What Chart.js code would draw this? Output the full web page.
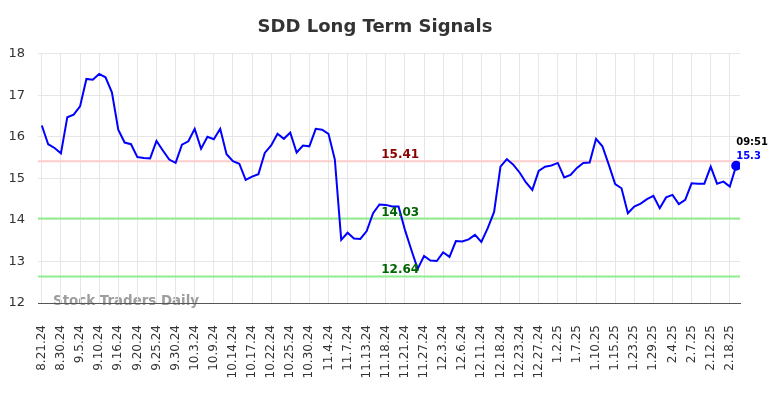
<!DOCTYPE html>
<html>
<head>
<meta charset="utf-8">
<title>SDD Long Term Signals</title>
<script src="https://cdn.jsdelivr.net/npm/chart.js@4/dist/chart.umd.min.js"></script>
<style>
    html, body { margin: 0; padding: 0; background: #fff; }
</style>
</head>
<body>
<canvas id="signals-chart" width="784" height="398"></canvas>
<script>
// подписи оси X (каждая третья точка)
const tickLabels = ['8.21.24', '8.30.24', '9.5.24', '9.10.24', '9.16.24', '9.20.24', '9.25.24', '9.30.24',
    '10.3.24', '10.9.24', '10.14.24', '10.17.24', '10.22.24', '10.25.24', '10.30.24',
    '11.4.24', '11.7.24', '11.13.24', '11.18.24', '11.21.24', '11.27.24',
    '12.3.24', '12.6.24', '12.11.24', '12.18.24', '12.23.24', '12.27.24',
    '1.2.25', '1.7.25', '1.10.25', '1.15.25', '1.23.25', '1.29.25',
    '2.4.25', '2.7.25', '2.12.25', '2.18.25'];
const tickStep = 3;

// цена SDD
const signalValues = [
    16.27, 15.82, 15.73, 15.60, 16.47, 16.53, 16.73, 17.39, 17.37, 17.51, 17.43, 17.07, 16.17, 15.86, 15.82, 15.51, 15.49, 15.48,
    15.90, 15.67, 15.45, 15.37, 15.81, 15.89, 16.19, 15.71, 16.00, 15.94, 16.19, 15.58, 15.41, 15.35, 14.96, 15.04, 15.10, 15.61, 15.79,
    16.07, 15.95, 16.10, 15.62, 15.79, 15.77, 16.19, 16.17, 16.07, 15.45, 13.52, 13.69, 13.55, 13.54, 13.73, 14.16, 14.37, 14.36, 14.32, 14.32,
    13.76, 13.28, 12.82, 13.13, 13.02, 13.01, 13.22, 13.11, 13.49, 13.48, 13.53, 13.64, 13.47, 13.80, 14.19,
    15.28, 15.46, 15.33, 15.14, 14.90, 14.72, 15.18, 15.28, 15.31, 15.37, 15.02, 15.08, 15.25, 15.37, 15.38, 15.95, 15.77, 15.33,
    14.86, 14.76, 14.16, 14.32, 14.39, 14.50, 14.58, 14.28, 14.54, 14.60, 14.38, 14.48, 14.88, 14.87, 14.87, 15.28, 14.87, 14.92, 14.80, 15.30
];

// уровни сопротивления / поддержки
const resistanceLevels = [15.41];
const supportLevels = [14.03, 12.64];
const lastTime = '09:51';

const levelsPlugin = {
    id: 'levels',
    beforeDraw(chart) {
        // водяной знак
        const ctx = chart.ctx;
        const area = chart.chartArea;
        ctx.save();
        ctx.font = 'bold 13.4px "DejaVu Sans"';
        ctx.fillStyle = 'rgba(140, 140, 140, 0.85)';
        ctx.textBaseline = 'middle';
        ctx.fillText('Stock Traders Daily', area.left + 15, area.bottom - 1);
        ctx.restore();
    },
    beforeDatasetsDraw(chart) {
        const ctx = chart.ctx;
        const area = chart.chartArea;
        const y = chart.scales.y;
        ctx.save();
        ctx.lineWidth = 2;
        resistanceLevels.forEach(v => {
            ctx.strokeStyle = '#ffcccc';
            ctx.beginPath();
            ctx.moveTo(area.left, y.getPixelForValue(v));
            ctx.lineTo(area.right, y.getPixelForValue(v));
            ctx.stroke();
        });
        supportLevels.forEach(v => {
            ctx.strokeStyle = '#90ee90';
            ctx.beginPath();
            ctx.moveTo(area.left, y.getPixelForValue(v));
            ctx.lineTo(area.right, y.getPixelForValue(v));
            ctx.stroke();
        });
        ctx.restore();
    },
    afterDatasetsDraw(chart) {
        const ctx = chart.ctx;
        const area = chart.chartArea;
        const x = chart.scales.x;
        const y = chart.scales.y;
        const midX = area.left + (area.right - area.left) * 0.516;
        ctx.save();
        ctx.font = 'bold 12px "DejaVu Sans"';
        ctx.textAlign = 'center';
        ctx.textBaseline = 'alphabetic';
        resistanceLevels.forEach(v => {
            ctx.fillStyle = '#8b0000';
            ctx.fillText(v.toFixed(2), midX, y.getPixelForValue(v) - 3);
        });
        supportLevels.forEach(v => {
            ctx.fillStyle = '#006400';
            ctx.fillText(v.toFixed(2), midX, y.getPixelForValue(v) - 3);
        });

        // последняя точка
        const lastIndex = signalValues.length - 1;
        const lastValue = signalValues[lastIndex];
        const px = x.getPixelForValue(lastIndex);
        const py = y.getPixelForValue(lastValue);
        ctx.font = 'bold 10px "DejaVu Sans"';
        ctx.textAlign = 'left';
        ctx.textBaseline = 'middle';
        ctx.fillStyle = '#000';
        ctx.fillText(lastTime, px, py - 23);
        ctx.fillStyle = '#0000ff';
        ctx.fillText(String(lastValue), px, py - 9);
        ctx.restore();
    }
};

document.addEventListener('DOMContentLoaded', function() {
    const ctx = document.getElementById('signals-chart').getContext('2d');
    const lastIndex = signalValues.length - 1;

    new Chart(ctx, {
        type: 'line',
        data: {
            datasets: [{
                label: 'SDD',
                data: signalValues.map((v, i) => ({ x: i, y: v })),
                borderColor: '#0000ff',
                backgroundColor: '#0000ff',
                borderWidth: 2,
                tension: 0,
                pointRadius: ctx => (ctx.dataIndex === lastIndex ? 4 : 0),
                pointHoverRadius: 0
            }]
        },
        options: {
            responsive: false,
            animation: false,
            layout: {
                padding: { left: 10, right: 44, top: 0, bottom: 0 }
            },
            plugins: {
                legend: { display: false },
                tooltip: { enabled: false },
                title: {
                    display: true,
                    text: 'SDD Long Term Signals',
                    color: '#333',
                    font: { family: 'DejaVu Sans', size: 18, weight: 'bold' },
                    padding: { top: 17, bottom: 15 }
                }
            },
            scales: {
                x: {
                    type: 'linear',
                    min: -0.6,
                    max: lastIndex + 0.6,
                    afterBuildTicks: axis => {
                        axis.ticks = tickLabels.map((_, i) => ({ value: i * tickStep }));
                    },
                    afterFit: axis => { axis.height = 95; },
                    ticks: {
                        autoSkip: false,
                        minRotation: 90,
                        maxRotation: 90,
                        padding: 22,
                        color: '#333',
                        font: { family: 'DejaVu Sans', size: 12 },
                        callback: value => tickLabels[value / tickStep]
                    },
                    grid: { color: '#e6e6e6', drawTicks: false },
                    border: { display: true, color: '#555', width: 1 }
                },
                y: {
                    min: 12,
                    max: 18,
                    afterFit: axis => { axis.width = 28; },
                    ticks: {
                        stepSize: 1,
                        padding: 13,
                        color: '#333',
                        font: { family: 'DejaVu Sans', size: 13 }
                    },
                    grid: { color: '#e6e6e6', drawTicks: false },
                    border: { display: false }
                }
            }
        },
        plugins: [levelsPlugin]
    });
});
</script>
</body>
</html>
